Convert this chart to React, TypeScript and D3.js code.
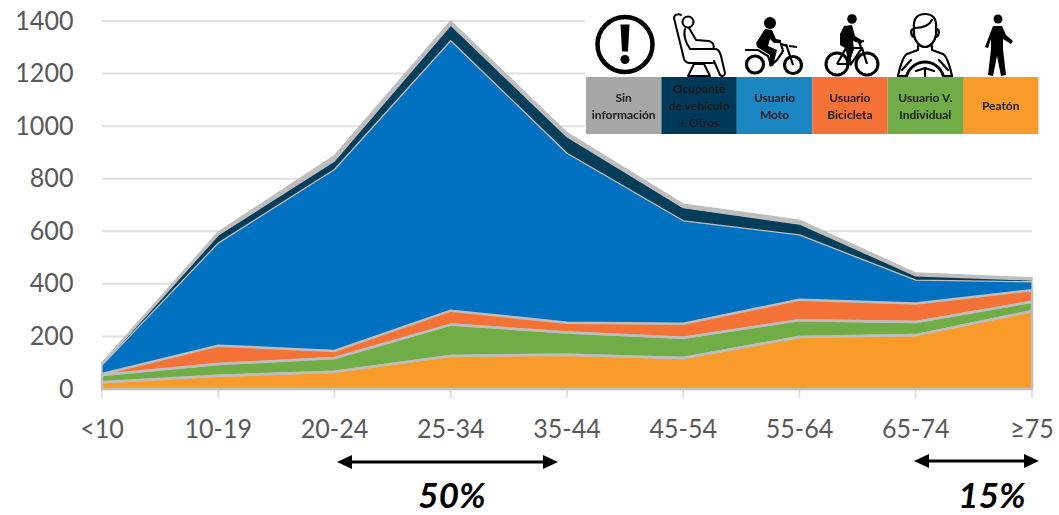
import React from "react";
import * as d3 from "d3";

// Age groups along the horizontal axis
const ageGroups = ["<10", "10-19", "20-24", "25-34", "35-44", "45-54", "55-64", "65-74", "≥75"];
const yTicks = [0, 200, 400, 600, 800, 1000, 1200, 1400];

// Deaths per road-user type, stacked from the bottom up
const peaton = [26, 50, 66, 126, 130, 118, 198, 205, 296];
const individual = [27, 45, 52, 119, 85, 77, 64, 50, 36];
const bicicleta = [4, 70, 27, 53, 37, 53, 78, 70, 44];
const moto = [33, 390, 690, 1027, 645, 392, 246, 89, 32];
const ocupante = [3, 31, 33, 60, 63, 50, 42, 17, 7];
const sinInfo = [7, 11, 20, 15, 15, 13, 14, 10, 8];

const GREY = "#BFBDBD";
const layers = [
  { key: "peaton", values: peaton, fill: "#F99B2B", sw: 2.5 },
  { key: "individual", values: individual, fill: "#70AD47", sw: 2.5 },
  { key: "bicicleta", values: bicicleta, fill: "#F47235", sw: 2.5 },
  { key: "moto", values: moto, fill: "#0070C0", sw: 1.3 },
  { key: "ocupante", values: ocupante, fill: "#023E5A", sw: 0 },
  { key: "sinInfo", values: sinInfo, fill: GREY, sw: 1.5 },
];

const legendLabels = [
  { lines: ["Sin", "información"], fill: "#A6A6A6" },
  { lines: ["Ocupante", "de vehículo", "+ Otros"], fill: "#03395A" },
  { lines: ["Usuario", "Moto"], fill: "#1A86C2" },
  { lines: ["Usuario", "Bicicleta"], fill: "#F47235" },
  { lines: ["Usuario V.", "Individual"], fill: "#70AD47" },
  { lines: ["Peatón"], fill: "#F99B2B" },
];

const ranges = [
  { from: 337, to: 558, y: 462, label: "50%", labelX: 452 },
  { from: 914, to: 1039, y: 461, label: "15%", labelX: 992 },
];

const W = 1059;
const H = 515;
const FONT = "Lato, 'Open Sans', sans-serif";
const AXIS_SIZE = 27;
const AXIS_SQUEEZE = 0.93;

const x = d3.scalePoint<string>().domain(ageGroups).range([102, 1032]);
const y = d3.scaleLinear().domain([0, 1400]).range([389, 21]);

const rows = ageGroups.map((age, i) => {
  const row: Record<string, number | string> = { age };
  layers.forEach((l) => (row[l.key] = l.values[i]));
  return row;
});
const stacked = d3.stack<any>().keys(layers.map((l) => l.key))(rows);

const area = d3
  .area<any>()
  .x((d) => x(d.data.age) as number)
  .y0((d) => y(d[0]))
  .y1((d) => y(d[1]));

function AlertIcon() {
  return (
    <g transform="translate(625,44.5)">
      <circle r="27.5" fill="none" stroke="#000" strokeWidth="4.5" />
      <path d="M-4.5,-20 L4.5,-20 L3,7 L-3,7 Z" fill="#000" />
      <circle cy="15" r="4.5" fill="#000" />
    </g>
  );
}

function SeatIcon() {
  return (
    <g transform="translate(673,13)" fill="none" stroke="#000" strokeWidth="2" strokeLinecap="round" strokeLinejoin="round">
      <path d="M1,5 C1,2 5,0 8,2 M1,5 L11,46 C12,49 14,50 17,50 L40,50" />
      <circle cx="15" cy="9" r="5.5" />
      <path d="M12,16 C10,22 13,30 16,34 L17,36 L43,36 C46,37 47,39 48,43 L52,60 C52,63 49,64 47,62 L41,48" />
      <path d="M16,15 L23,27 L36,28 C40,29 42,33 40,36" />
      <path d="M15,63 L21,51 L31,51 L37,63 Z" />
    </g>
  );
}

function MotoIcon() {
  return (
    <g transform="translate(745,16)">
      <circle cx="10" cy="48.5" r="8.5" fill="none" stroke="#000" strokeWidth="3.2" />
      <circle cx="48" cy="49" r="8.5" fill="none" stroke="#000" strokeWidth="3.2" />
      <path d="M0,34 L13,34 L23,40 L26,49 L32,44 L38,35 L36,28 L42,30" fill="none" stroke="#000" strokeWidth="2.2" />
      <path d="M41,28 L48,49" stroke="#000" strokeWidth="2.2" />
      <path d="M44,30 L52,31" stroke="#000" strokeWidth="2.2" />
      <circle cx="25" cy="7" r="6" fill="#000" />
      <path d="M20,13 L27,14 L31,23 L36,24 L36,27 L29,27 L25,23 L23,30 L32,34 L28,50 L24,50 L25,39 L12,31 L11,27 Z" fill="#000" />
    </g>
  );
}

function BikeIcon() {
  return (
    <g transform="translate(823,14)">
      <circle cx="14" cy="50" r="11" fill="none" stroke="#000" strokeWidth="3" />
      <circle cx="44" cy="50" r="11" fill="none" stroke="#000" strokeWidth="3" />
      <path d="M14,50 L23,34 L39,34 L44,50 M23,34 L28,50 L39,34 M14,50 L28,50 M38,33 L36,28 L41,27" fill="none" stroke="#000" strokeWidth="2.2" />
      <circle cx="29" cy="5" r="4.8" fill="#000" />
      <path d="M21,12 L29,11 L32,22 L40,27 L38,30 L30,27 L31,35 L27,47 L23,46 L25,36 L17,31 L17,20 Z" fill="#000" />
    </g>
  );
}

function DriverIcon() {
  return (
    <g transform="translate(897,13)" fill="none" stroke="#000" strokeWidth="2.2" strokeLinecap="round" strokeLinejoin="round">
      <path d="M17,15 C16,5 21,1 28,1 C35,1 40,5 39,15 L39,22 C38,29 33,34 28,34 C23,34 18,29 17,22 Z" />
      <path d="M17,15 C25,15 32,13 35,7" />
      <path d="M16,16 C13,17 14,23 17,24 M40,16 C43,17 42,23 39,24" />
      <path d="M21,33 L21,37 L10,41 C6,43 3,54 1,63 M35,33 L35,37 L46,41 C50,43 53,54 55,63" />
      <path d="M1,63 L10,63 M46,63 L55,63" />
      <path d="M10,62 A19,19 0 0 1 46,62" strokeWidth="3" />
      <path d="M19,58 L28,55 L37,58 M28,55 L28,63" />
      <path d="M5,57 L14,47 M51,57 L42,47" />
    </g>
  );
}

function WalkIcon() {
  return (
    <g transform="translate(984,14)">
      <circle cx="14" cy="5" r="4.5" fill="#000" />
      <path d="M9,12 L18,12 L22,21 L29,27 L27,30 L19,25 L19,35 L22,61 L17,62 L13,42 L9,62 L4,61 L7,35 L7,25 L4,34 L1,33 Z" fill="#000" />
    </g>
  );
}

function DoubleArrow({ from, to, yPos }: { from: number; to: number; yPos: number }) {
  return (
    <g fill="#000">
      <line x1={from + 10} x2={to - 10} y1={yPos} y2={yPos} stroke="#000" strokeWidth="3" />
      <path d={`M${from},${yPos} L${from + 15},${yPos - 7} L${from + 15},${yPos + 7} Z`} />
      <path d={`M${to},${yPos} L${to - 15},${yPos - 7} L${to - 15},${yPos + 7} Z`} />
    </g>
  );
}

export default function App() {
  const cellW = 75.4;
  return (
    <svg
      width={W}
      height={H}
      viewBox={`0 0 ${W} ${H}`}
      style={{ position: "absolute", left: 0, top: 0, background: "#fff" }}
    >
      <defs>
        <filter id="soft" x="-2%" y="-2%" width="104%" height="104%">
          <feGaussianBlur stdDeviation="0.45" />
        </filter>
      </defs>

      {/* Grid and tick marks */}
      {yTicks.map((t) => (
        <line key={t} x1={102} x2={1032} y1={y(t)} y2={y(t)} stroke="#E0E0E0" strokeWidth="2" />
      ))}
      {ageGroups.map((a) => (
        <line key={a} x1={x(a)} x2={x(a)} y1={389} y2={398} stroke="#D9D9D9" strokeWidth="1.5" />
      ))}

      {/* Stacked areas, then their outlines so none is hidden by the next band */}
      {stacked.map((s, i) => (
        <path key={s.key} d={area(s as any) as string} fill={layers[i].fill} />
      ))}
      {stacked.map((s, i) =>
        layers[i].sw > 0 ? (
          <path
            key={s.key}
            d={area(s as any) as string}
            fill="none"
            stroke={GREY}
            strokeWidth={layers[i].sw}
            strokeLinejoin="round"
          />
        ) : null
      )}

      {/* Value axis */}
      {yTicks.map((t) => (
        <text
          key={t}
          transform={`translate(73.5,${y(t) + 8.5}) scale(${AXIS_SQUEEZE},1)`}
          textAnchor="end"
          fontFamily={FONT}
          fontSize={AXIS_SIZE}
          fill="#595959"
        >
          {t}
        </text>
      ))}

      {/* Age axis */}
      {ageGroups.map((a) => (
        <text
          key={a}
          transform={`translate(${x(a)},438) scale(${AXIS_SQUEEZE},1)`}
          textAnchor="middle"
          fontFamily={FONT}
          fontSize={AXIS_SIZE}
          fill="#595959"
        >
          {a}
        </text>
      ))}

      {/* Legend panel with pictograms */}
      <rect x={585} y={0} width={474} height={140} fill="#fff" />
      <g filter="url(#soft)">
        <AlertIcon />
        <SeatIcon />
        <MotoIcon />
        <BikeIcon />
        <DriverIcon />
        <WalkIcon />
        {legendLabels.map((cell, i) => {
          const cx = 586 + cellW * (i + 0.5);
          const lh = 17;
          const first = 106 - ((cell.lines.length - 1) * lh) / 2 + 4;
          return (
            <g key={cell.lines.join(" ")}>
              <rect x={586 + cellW * i} y={77} width={cellW} height={57} fill={cell.fill} />
              {cell.lines.map((ln, j) => (
                <text
                  key={ln}
                  x={cx}
                  y={first + j * lh}
                  textAnchor="middle"
                  fontFamily={FONT}
                  fontWeight="700"
                  fontSize="12"
                  fill="#1a1a1a"
                >
                  {ln}
                </text>
              ))}
            </g>
          );
        })}
      </g>

      {/* Age ranges with their share of the total */}
      {ranges.map((r) => (
        <g key={r.label}>
          <DoubleArrow from={r.from} to={r.to} yPos={r.y} />
          <text
            x={r.labelX}
            y={507.5}
            textAnchor="middle"
            fontFamily={FONT}
            fontWeight="700"
            fontStyle="italic"
            fontSize="35"
            fill="#000"
          >
            {r.label}
          </text>
        </g>
      ))}
    </svg>
  );
}
